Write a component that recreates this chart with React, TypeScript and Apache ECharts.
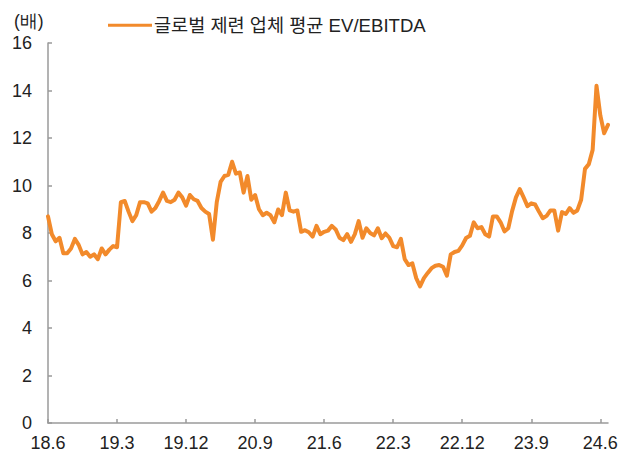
import React, { useEffect, useRef } from "react";
import * as echarts from "echarts";

// Half-monthly observations (1st and 16th of each month), starting June 2018
const startYear = 2018;
const startMonth = 6;

const values2018 = [8.7, 7.95, 7.65, 7.8, 7.15, 7.15, 7.35, 7.75, 7.5, 7.1, 7.2, 7.0, 7.1, 6.9];
const values2019 = [
  7.35, 7.1, 7.3, 7.45, 7.4, 9.3, 9.35, 8.9, 8.5, 8.75, 9.3, 9.3, 9.25, 8.9, 9.05, 9.35,
  9.7, 9.35, 9.3, 9.4, 9.7, 9.5, 9.15, 9.6,
];
const values2020 = [
  9.42, 9.35, 9.05, 8.9, 8.8, 7.72, 9.3, 10.15, 10.4, 10.45, 11.0, 10.5, 10.55, 9.7, 10.4,
  9.4, 9.6, 9.0, 8.75, 8.85, 8.75, 8.45, 8.99, 8.75,
];
const values2021 = [
  9.7, 8.95, 8.9, 8.95, 8.05, 8.12, 8.03, 7.85, 8.3, 7.95, 8.05, 8.1, 8.3, 8.15, 7.8, 7.7,
  7.95, 7.63, 7.95, 8.5, 7.8, 8.2, 8.0, 7.9,
];
const values2022 = [
  8.2, 7.78, 7.98, 7.8, 7.45, 7.4, 7.75, 6.9, 6.65, 6.72, 6.1, 5.75, 6.1, 6.32, 6.52, 6.62,
  6.65, 6.58, 6.2, 7.1, 7.2, 7.25, 7.48, 7.79,
];
const values2023 = [
  7.88, 8.45, 8.2, 8.25, 7.95, 7.85, 8.7, 8.7, 8.45, 8.07, 8.2, 8.92, 9.5, 9.85, 9.5, 9.13,
  9.25, 9.2, 8.9, 8.62, 8.72, 8.95, 8.95, 8.1,
];
const values2024 = [8.88, 8.8, 9.05, 8.85, 8.95, 9.4, 10.7, 10.9, 11.5, 14.2, 12.95, 12.2, 12.55];

const tickLabels = ["18.6", "19.3", "19.12", "20.9", "21.6", "22.3", "22.12", "23.9", "24.6"];
const tickStep = 18; // 9 months, two observations per month

const seriesName = "글로벌 제련 업체 평균 EV/EBITDA";
const unitLabel = "(배)";

const seriesValues = [
  ...values2018,
  ...values2019,
  ...values2020,
  ...values2021,
  ...values2022,
  ...values2023,
  ...values2024,
];

const categories = seriesValues.map((_, j) => {
  const total = startMonth - 1 + Math.floor(j / 2);
  const y = startYear + Math.floor(total / 12);
  const m = (total % 12) + 1;
  const d = j % 2 === 0 ? "01" : "16";
  return `${y}-${String(m).padStart(2, "0")}-${d}`;
});

const showTick = (idx: number) => idx % tickStep === 0 && idx / tickStep < tickLabels.length;

const FONT = "'Liberation Sans', Arial, 'Noto Sans CJK KR', sans-serif";
const AXIS_COLOR = "#9a9a9a";
const LINE_COLOR = "#F28A2B";

export default function App() {
  const ref = useRef<HTMLDivElement>(null);
  useEffect(() => {
    if (!ref.current) return;
    const chart = echarts.init(ref.current, undefined, { renderer: "svg" });
    chart.setOption({
      animation: false,
      backgroundColor: "#ffffff",
      textStyle: { fontFamily: FONT },
      grid: { left: 48, right: 24, top: 43, bottom: 34, containLabel: false },
      legend: {
        data: [seriesName],
        left: 108,
        top: 16,
        padding: 0,
        icon: "rect",
        itemWidth: 44,
        itemHeight: 3,
        itemGap: 0,
        textStyle: { fontSize: 18.6, color: "#222", fontFamily: FONT, padding: [0, 0, 0, -3] },
      },
      graphic: [
        {
          type: "text",
          left: 14,
          top: 12,
          style: { text: unitLabel, fontSize: 17.5, fill: "#222", font: `17.5px ${FONT}` },
        },
      ],
      xAxis: {
        type: "category",
        data: categories,
        boundaryGap: false,
        axisLine: { show: true, lineStyle: { color: AXIS_COLOR, width: 1.5 } },
        axisTick: {
          show: true,
          inside: true,
          length: 4,
          interval: (idx: number) => showTick(idx),
          lineStyle: { color: AXIS_COLOR, width: 1.5 },
        },
        axisLabel: {
          interval: (idx: number) => showTick(idx),
          formatter: (_v: string, idx: number) =>
            showTick(idx) ? tickLabels[idx / tickStep] : "",
          fontSize: 18,
          color: "#222",
          margin: 11,
          fontFamily: FONT,
        },
        splitLine: { show: false },
      },
      yAxis: {
        type: "value",
        min: 0,
        max: 16,
        interval: 2,
        axisLine: { show: true, lineStyle: { color: AXIS_COLOR, width: 1.5 } },
        axisTick: { show: true, inside: true, length: 4, lineStyle: { color: AXIS_COLOR, width: 1.5 } },
        axisLabel: { fontSize: 18, color: "#222", margin: 16, fontFamily: FONT },
        splitLine: { show: false },
      },
      series: [
        {
          name: seriesName,
          type: "line",
          data: seriesValues,
          showSymbol: false,
          symbol: "none",
          lineStyle: { color: LINE_COLOR, width: 4, join: "round", cap: "round" },
          itemStyle: { color: LINE_COLOR },
        },
      ],
    });
    return () => chart.dispose();
  }, []);
  return (
    <div
      ref={ref}
      style={{ position: "fixed", left: 0, top: 0, width: 632, height: 457 }}
    />
  );
}
